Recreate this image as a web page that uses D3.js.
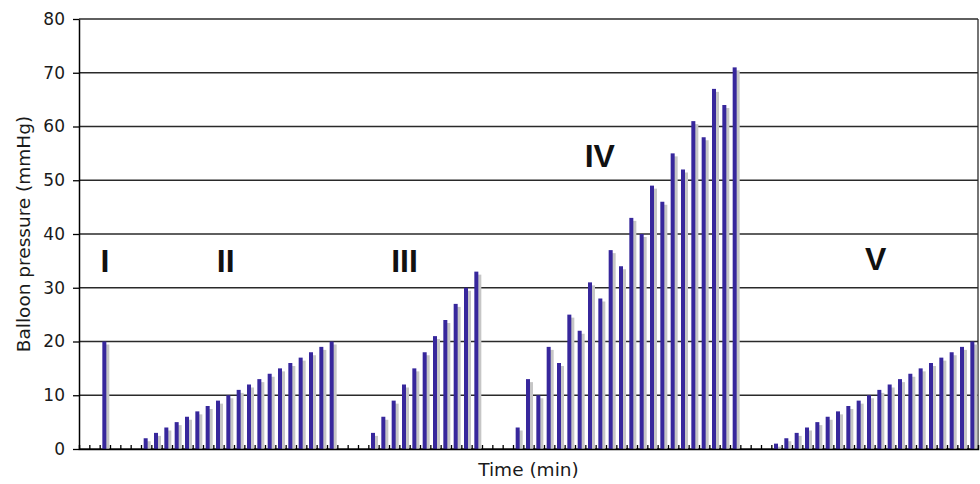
<!DOCTYPE html>
<html>
<head>
<meta charset="utf-8">
<script src="https://cdn.jsdelivr.net/npm/d3@7"></script>
<style>
  body { margin: 0; background: #fff; }
  text { font-family: "DejaVu Sans", sans-serif; fill: #222; }
</style>
</head>
<body>
<svg id="chart" width="980" height="484"></svg>
<script>
// balloon pressure per minute step, 0 = no inflation
var pressure = [
  0, 0,
  20,                                                     // I
  0, 0, 0,
  2, 3, 4, 5, 6, 7, 8, 9, 10, 11, 12, 13, 14, 15, 16, 17, 18, 19, 20,   // II
  0, 0, 0,
  3, 6, 9, 12, 15, 18, 21, 24, 27, 30, 33,               // III
  0, 0, 0,
  4, 13, 10, 19, 16, 25, 22, 31, 28, 37, 34, 43, 40, 49, 46, 55, 52, 61, 58, 67, 64, 71,  // IV
  0, 0, 0,
  1, 2, 3, 4, 5, 6, 7, 8, 9, 10, 11, 12, 13, 14, 15, 16, 17, 18, 19, 20  // V
];

var yTicks = [0, 10, 20, 30, 40, 50, 60, 70, 80];

var phaseNames = ["I", "II", "III", "IV", "V"];
var phaseAt = [2.5, 14.2, 31.5, 50.4, 77.1];     // in minute steps
var phaseLevel = [33, 33, 33, 52.5, 33.3];         // in mmHg

var margin = {top: 19, right: 2, bottom: 35, left: 79};
var width = 980 - margin.left - margin.right;
var height = 484 - margin.top - margin.bottom;

// keep the step index with each value
var points = pressure.map(function(v, i){ return {step: i, value: v}; })
  .filter(function(d){ return d.value > 0; });

var svg = d3.select("#chart");
var g = svg.append("g")
  .attr("transform", "translate(" + margin.left + "," + margin.top + ")");

var x = d3.scaleBand()
  .domain(d3.range(pressure.length))
  .range([0, width])
  .padding(0);

var xPos = d3.scaleLinear()
  .domain([0, pressure.length])
  .range([0, width]);

var y = d3.scaleLinear()
  .domain([0, 80])
  .range([height, 0]);

// gridlines
g.append("g")
  .selectAll("line")
  .data(yTicks)
  .enter().append("line")
  .attr("x1", 0)
  .attr("x2", width)
  .attr("y1", function(d){ return y(d) })
  .attr("y2", function(d){ return y(d) })
  .style("stroke", "#2a2a2a")
  .style("stroke-width", 1.3);

// right border
g.append("line")
  .attr("x1", width).attr("x2", width)
  .attr("y1", 0).attr("y2", height)
  .style("stroke", "#2a2a2a")
  .style("stroke-width", 1.3);

var bw = 4;
var bars = g.append("g");

// shadows first
bars.selectAll("rect.shadow")
  .data(points)
  .enter()
  .append("rect")
  .attr("class", "shadow")
  .attr("x", function(d){ return x(d.step) + x.bandwidth() / 2 + 0.5 })
  .attr("y", function(d){ return y(d.value) + 3 })
  .attr("width", bw)
  .attr("height", function(d){ return Math.max(0, height - y(d.value) - 3) })
  .style("fill", "#c6c6c6");

bars.selectAll("rect.bar")
  .data(points)
  .enter()
  .append("rect")
  .attr("class", "bar")
  .attr("x", function(d){ return x(d.step) + x.bandwidth() / 2 - 2.5 })
  .attr("y", function(d){ return y(d.value) })
  .attr("width", bw)
  .attr("height", function(d){ return height - y(d.value) })
  .style("fill", "#37279c");

// x axis: small inward ticks between categories
var xAxis = g.append("g")
  .attr("transform", "translate(0," + height + ")")
  .call(d3.axisBottom(xPos)
    .tickValues(d3.range(1, pressure.length))
    .tickSize(-4)
    .tickFormat(""));
xAxis.select(".domain").style("stroke", "#000").style("stroke-width", 1.5);
xAxis.selectAll(".tick line").style("stroke", "#000").style("stroke-width", 1.3);

// y axis
var yAxis = g.append("g")
  .call(d3.axisLeft(y)
    .tickValues(yTicks)
    .tickSize(6)
    .tickPadding(8)
    .tickSizeOuter(0));
yAxis.select(".domain").style("stroke", "#000").style("stroke-width", 1.5);
yAxis.selectAll(".tick line").style("stroke", "#000").style("stroke-width", 1.3);
yAxis.selectAll(".tick text")
  .style("font-size", "17px")
  .style("font-family", "DejaVu Sans, sans-serif")
  .style("fill", "#1a1a1a");

// phase labels
g.selectAll("text.phase")
  .data(phaseNames)
  .enter().append("text")
  .attr("class", "phase")
  .attr("x", function(d, i){ return xPos(phaseAt[i]) })
  .attr("y", function(d, i){ return y(phaseLevel[i]) })
  .attr("text-anchor", "middle")
  .style("font-family", "Liberation Sans, Arial, sans-serif")
  .style("font-weight", "bold")
  .style("font-size", "32px")
  .style("fill", "#111")
  .text(function(d){ return d });

// axis titles
svg.append("text")
  .attr("transform", "translate(30," + (margin.top + height / 2) + ") rotate(-90)")
  .attr("text-anchor", "middle")
  .style("font-size", "18.5px")
  .style("fill", "#1a1a1a")
  .text("Balloon pressure (mmHg)");

svg.append("text")
  .attr("x", margin.left + width / 2)
  .attr("y", 476)
  .attr("text-anchor", "middle")
  .style("font-size", "18.5px")
  .style("fill", "#1a1a1a")
  .text("Time (min)");
</script>
</body>
</html>
